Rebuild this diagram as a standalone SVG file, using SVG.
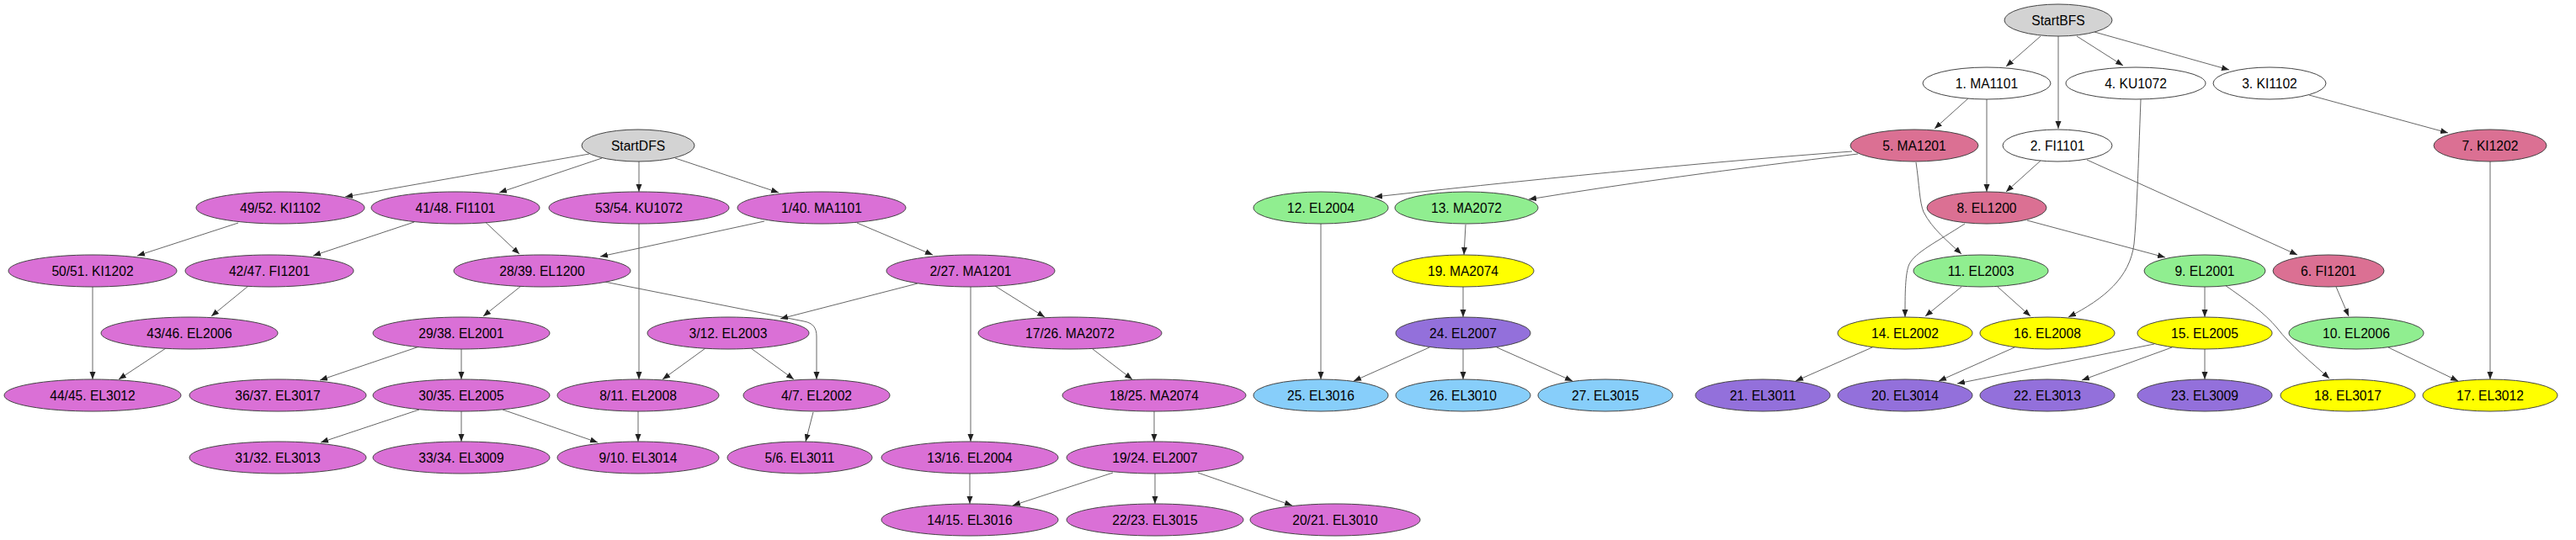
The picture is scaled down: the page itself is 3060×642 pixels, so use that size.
<svg xmlns="http://www.w3.org/2000/svg" width="3060" height="642" viewBox="0 0 3060 642">
<style>
ellipse{stroke:#444;stroke-width:1}
text{font-family:"Liberation Sans",Arial,sans-serif;font-size:15.6px;text-anchor:middle;fill:#000}
.grey{fill:#d3d3d3}.orchid{fill:#da70d6}.white{fill:#fff}.pvr{fill:#db7093}.green{fill:#90ee90}.yellow{fill:#ffff00}.purple{fill:#9370db}.sky{fill:#87cefa}
#edges path{fill:none;stroke:#555;stroke-width:0.9;marker-end:url(#ah)}
</style>
<defs>
<marker id="ah" markerUnits="userSpaceOnUse" markerWidth="10" markerHeight="8" refX="9" refY="3.5" orient="auto"><path d="M0,0 L9,3.5 L0,7 z" fill="#222"/></marker>
</defs>
<rect width="3060" height="642" fill="#fff"/>
<g id="edges">
<path d="M700,183 L410,234"/>
<path d="M715,188 L593,229"/>
<path d="M759,192 L759,228"/>
<path d="M802,188 L925,229"/>
<path d="M283,265 L163,304"/>
<path d="M492,264 L372,304"/>
<path d="M568,256 L617,302"/>
<path d="M908,263 L713,305"/>
<path d="M1018,265 L1108,303"/>
<path d="M295,340 L251,376"/>
<path d="M110,341 L110,451"/>
<path d="M197,414 L141,451"/>
<path d="M619,340 L574,376"/>
<path d="M718,335 L955,382 C966,384 970,390 970,400 L970,451"/>
<path d="M759,266 L759,451"/>
<path d="M1090,337 L927,379"/>
<path d="M1182,340 L1241,377"/>
<path d="M1153,341 L1153,525"/>
<path d="M498,412 L380,452"/>
<path d="M548,415 L548,451"/>
<path d="M838,414 L787,451"/>
<path d="M892,414 L943,451"/>
<path d="M498,487 L381,526"/>
<path d="M548,489 L548,525"/>
<path d="M597,487 L710,526"/>
<path d="M758,489 L758,525"/>
<path d="M966,490 L957,525"/>
<path d="M1298,415 L1345,451"/>
<path d="M1371,489 L1371,525"/>
<path d="M1152,563 L1152,599"/>
<path d="M1322,562 L1203,601"/>
<path d="M1372,563 L1372,599"/>
<path d="M1423,562 L1535,601"/>
<path d="M2424,43 L2383,79"/>
<path d="M2445,43 L2445,153"/>
<path d="M2467,43 L2522,78"/>
<path d="M2488,38 L2648,83"/>
<path d="M2338,117 L2298,153"/>
<path d="M2360,118 L2360,228"/>
<path d="M2424,191 L2383,228"/>
<path d="M2479,190 L2729,303"/>
<path d="M2743,113 L2908,158"/>
<path d="M2543,118 C2540,200 2538,260 2535,290 C2530,330 2500,355 2457,377"/>
<path d="M2200,180 Q1980,196 1633,234"/>
<path d="M2207,183 Q1980,210 1816,237"/>
<path d="M2276,193 C2280,220 2280,240 2285,252 C2295,272 2315,288 2330,302"/>
<path d="M2334,266 C2300,288 2275,300 2268,314 C2263,325 2263,350 2263,377"/>
<path d="M2408,262 L2572,306"/>
<path d="M2958,192 L2958,451"/>
<path d="M1569,266 L1569,451"/>
<path d="M1741,267 L1739,303"/>
<path d="M1738,341 L1738,377"/>
<path d="M1698,413 L1608,453"/>
<path d="M1738,415 L1738,451"/>
<path d="M1778,413 L1868,453"/>
<path d="M2330,341 L2287,376"/>
<path d="M2373,341 L2412,376"/>
<path d="M2619,341 L2619,377"/>
<path d="M2643,339 C2670,358 2690,372 2705,390 C2720,410 2745,430 2767,450"/>
<path d="M2775,341 L2790,376"/>
<path d="M2224,413 L2133,453"/>
<path d="M2393,413 L2303,453"/>
<path d="M2559,409 L2325,456"/>
<path d="M2580,413 L2473,452"/>
<path d="M2619,415 L2619,451"/>
<path d="M2837,413 L2920,453"/>
</g>
<g id="StartDFS"><ellipse class="grey" cx="758" cy="173" rx="67" ry="19"/><text x="758" y="178.5">StartDFS</text></g>
<g id="d49"><ellipse class="orchid" cx="333" cy="247" rx="100" ry="19"/><text x="333" y="252.5">49/52. KI1102</text></g>
<g id="d41"><ellipse class="orchid" cx="541" cy="247" rx="100" ry="19"/><text x="541" y="252.5">41/48. FI1101</text></g>
<g id="d53"><ellipse class="orchid" cx="759" cy="247" rx="107" ry="19"/><text x="759" y="252.5">53/54. KU1072</text></g>
<g id="d1"><ellipse class="orchid" cx="976" cy="247" rx="100" ry="19"/><text x="976" y="252.5">1/40. MA1101</text></g>
<g id="d50"><ellipse class="orchid" cx="110" cy="322" rx="100" ry="19"/><text x="110" y="327.5">50/51. KI1202</text></g>
<g id="d42"><ellipse class="orchid" cx="320" cy="322" rx="100" ry="19"/><text x="320" y="327.5">42/47. FI1201</text></g>
<g id="d28"><ellipse class="orchid" cx="644" cy="322" rx="105" ry="19"/><text x="644" y="327.5">28/39. EL1200</text></g>
<g id="d2"><ellipse class="orchid" cx="1153" cy="322" rx="100" ry="19"/><text x="1153" y="327.5">2/27. MA1201</text></g>
<g id="d43"><ellipse class="orchid" cx="225" cy="396" rx="105" ry="19"/><text x="225" y="401.5">43/46. EL2006</text></g>
<g id="d29"><ellipse class="orchid" cx="548" cy="396" rx="105" ry="19"/><text x="548" y="401.5">29/38. EL2001</text></g>
<g id="d3"><ellipse class="orchid" cx="865" cy="396" rx="96" ry="19"/><text x="865" y="401.5">3/12. EL2003</text></g>
<g id="d17"><ellipse class="orchid" cx="1271" cy="396" rx="109" ry="19"/><text x="1271" y="401.5">17/26. MA2072</text></g>
<g id="d44"><ellipse class="orchid" cx="110" cy="470" rx="105" ry="19"/><text x="110" y="475.5">44/45. EL3012</text></g>
<g id="d36"><ellipse class="orchid" cx="330" cy="470" rx="105" ry="19"/><text x="330" y="475.5">36/37. EL3017</text></g>
<g id="d30"><ellipse class="orchid" cx="548" cy="470" rx="105" ry="19"/><text x="548" y="475.5">30/35. EL2005</text></g>
<g id="d8"><ellipse class="orchid" cx="758" cy="470" rx="96" ry="19"/><text x="758" y="475.5">8/11. EL2008</text></g>
<g id="d4"><ellipse class="orchid" cx="970" cy="470" rx="87" ry="19"/><text x="970" y="475.5">4/7. EL2002</text></g>
<g id="d18"><ellipse class="orchid" cx="1371" cy="470" rx="109" ry="19"/><text x="1371" y="475.5">18/25. MA2074</text></g>
<g id="d31"><ellipse class="orchid" cx="330" cy="544" rx="105" ry="19"/><text x="330" y="549.5">31/32. EL3013</text></g>
<g id="d33"><ellipse class="orchid" cx="548" cy="544" rx="105" ry="19"/><text x="548" y="549.5">33/34. EL3009</text></g>
<g id="d9"><ellipse class="orchid" cx="758" cy="544" rx="96" ry="19"/><text x="758" y="549.5">9/10. EL3014</text></g>
<g id="d5"><ellipse class="orchid" cx="950" cy="544" rx="86" ry="19"/><text x="950" y="549.5">5/6. EL3011</text></g>
<g id="d13"><ellipse class="orchid" cx="1152" cy="544" rx="105" ry="19"/><text x="1152" y="549.5">13/16. EL2004</text></g>
<g id="d19"><ellipse class="orchid" cx="1372" cy="544" rx="105" ry="19"/><text x="1372" y="549.5">19/24. EL2007</text></g>
<g id="d14"><ellipse class="orchid" cx="1152" cy="618" rx="105" ry="19"/><text x="1152" y="623.5">14/15. EL3016</text></g>
<g id="d22"><ellipse class="orchid" cx="1372" cy="618" rx="105" ry="19"/><text x="1372" y="623.5">22/23. EL3015</text></g>
<g id="d20"><ellipse class="orchid" cx="1586" cy="618" rx="101" ry="19"/><text x="1586" y="623.5">20/21. EL3010</text></g>
<g id="StartBFS"><ellipse class="grey" cx="2445" cy="24" rx="64" ry="19"/><text x="2445" y="29.5">StartBFS</text></g>
<g id="b1"><ellipse class="white" cx="2360" cy="99" rx="76" ry="19"/><text x="2360" y="104.5">1. MA1101</text></g>
<g id="b4"><ellipse class="white" cx="2537" cy="99" rx="83" ry="19"/><text x="2537" y="104.5">4. KU1072</text></g>
<g id="b3"><ellipse class="white" cx="2696" cy="99" rx="67" ry="19"/><text x="2696" y="104.5">3. KI1102</text></g>
<g id="b5"><ellipse class="pvr" cx="2274" cy="173" rx="76" ry="19"/><text x="2274" y="178.5">5. MA1201</text></g>
<g id="b2"><ellipse class="white" cx="2444" cy="173" rx="65" ry="19"/><text x="2444" y="178.5">2. FI1101</text></g>
<g id="b7"><ellipse class="pvr" cx="2958" cy="173" rx="67" ry="19"/><text x="2958" y="178.5">7. KI1202</text></g>
<g id="b12"><ellipse class="green" cx="1569" cy="247" rx="80" ry="19"/><text x="1569" y="252.5">12. EL2004</text></g>
<g id="b13"><ellipse class="green" cx="1742" cy="247" rx="85" ry="19"/><text x="1742" y="252.5">13. MA2072</text></g>
<g id="b8"><ellipse class="pvr" cx="2360" cy="247" rx="71" ry="19"/><text x="2360" y="252.5">8. EL1200</text></g>
<g id="b19"><ellipse class="yellow" cx="1738" cy="322" rx="84" ry="19"/><text x="1738" y="327.5">19. MA2074</text></g>
<g id="b11"><ellipse class="green" cx="2353" cy="322" rx="80" ry="19"/><text x="2353" y="327.5">11. EL2003</text></g>
<g id="b9"><ellipse class="green" cx="2619" cy="322" rx="72" ry="19"/><text x="2619" y="327.5">9. EL2001</text></g>
<g id="b6"><ellipse class="pvr" cx="2766" cy="322" rx="66" ry="19"/><text x="2766" y="327.5">6. FI1201</text></g>
<g id="b24"><ellipse class="purple" cx="1738" cy="396" rx="80" ry="19"/><text x="1738" y="401.5">24. EL2007</text></g>
<g id="b14"><ellipse class="yellow" cx="2263" cy="396" rx="80" ry="19"/><text x="2263" y="401.5">14. EL2002</text></g>
<g id="b16"><ellipse class="yellow" cx="2432" cy="396" rx="80" ry="19"/><text x="2432" y="401.5">16. EL2008</text></g>
<g id="b15"><ellipse class="yellow" cx="2619" cy="396" rx="80" ry="19"/><text x="2619" y="401.5">15. EL2005</text></g>
<g id="b10"><ellipse class="green" cx="2799" cy="396" rx="80" ry="19"/><text x="2799" y="401.5">10. EL2006</text></g>
<g id="b25"><ellipse class="sky" cx="1569" cy="470" rx="80" ry="19"/><text x="1569" y="475.5">25. EL3016</text></g>
<g id="b26"><ellipse class="sky" cx="1738" cy="470" rx="80" ry="19"/><text x="1738" y="475.5">26. EL3010</text></g>
<g id="b27"><ellipse class="sky" cx="1907" cy="470" rx="80" ry="19"/><text x="1907" y="475.5">27. EL3015</text></g>
<g id="b21"><ellipse class="purple" cx="2094" cy="470" rx="80" ry="19"/><text x="2094" y="475.5">21. EL3011</text></g>
<g id="b20"><ellipse class="purple" cx="2263" cy="470" rx="80" ry="19"/><text x="2263" y="475.5">20. EL3014</text></g>
<g id="b22"><ellipse class="purple" cx="2432" cy="470" rx="80" ry="19"/><text x="2432" y="475.5">22. EL3013</text></g>
<g id="b23"><ellipse class="purple" cx="2619" cy="470" rx="80" ry="19"/><text x="2619" y="475.5">23. EL3009</text></g>
<g id="b18"><ellipse class="yellow" cx="2789" cy="470" rx="80" ry="19"/><text x="2789" y="475.5">18. EL3017</text></g>
<g id="b17"><ellipse class="yellow" cx="2958" cy="470" rx="80" ry="19"/><text x="2958" y="475.5">17. EL3012</text></g>
</svg>
